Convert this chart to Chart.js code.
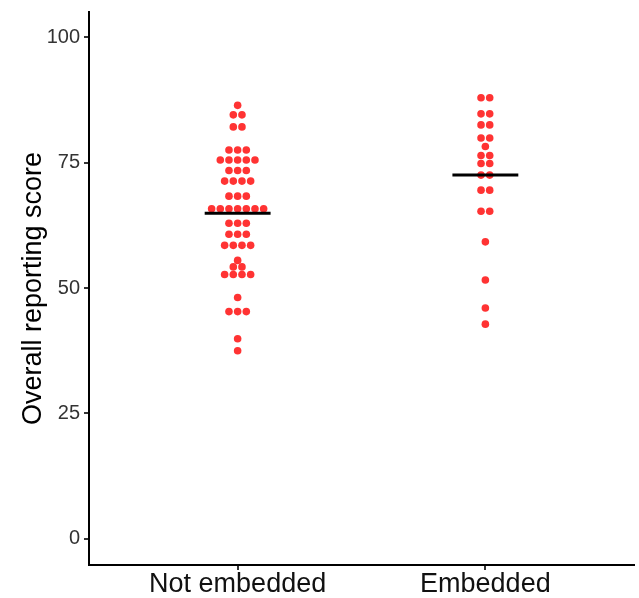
<!DOCTYPE html>
<html>
<head>
<meta charset="utf-8">
<script src="https://cdn.jsdelivr.net/npm/chart.js@4"></script>
<style>
    body { margin: 0; background: #ffffff; }
    canvas { display: block; }
</style>
</head>
<body>
<canvas id="chart" width="639" height="598"></canvas>
<script>
// values (one entry per dot)
const categories = ['Not embedded', 'Embedded'];

const notEmbedded = [
    86.4,
    84.5, 84.5,
    82.1, 82.1,
    77.5, 77.5, 77.5,
    75.5, 75.5, 75.5, 75.5, 75.5,
    73.4, 73.4, 73.4,
    71.3, 71.3, 71.3, 71.3,
    68.3, 68.3, 68.3,
    65.8, 65.8, 65.8, 65.8, 65.8, 65.8, 65.8,
    62.9, 62.9, 62.9,
    60.7, 60.7, 60.7,
    58.5, 58.5, 58.5, 58.5,
    55.5,
    54.2, 54.2,
    52.7, 52.7, 52.7, 52.7,
    48.1,
    45.3, 45.3, 45.3,
    39.9,
    37.5
];

const embedded = [
    87.9, 87.9,
    84.7, 84.7,
    82.5, 82.5,
    79.9, 79.9,
    78.2,
    76.4, 76.4,
    74.8, 74.8,
    72.5, 72.5,
    69.5, 69.5,
    65.3, 65.3,
    59.2,
    51.6,
    46.0,
    42.8
];

const groupMeans = [64.9, 72.5];
const yTicks = [0, 25, 50, 75, 100];

const DOT_STEP = 0.035;   // horizontal gap between dots in a row (x units)
const BAR_HALF = 0.133;   // half length of the mean bar

// lay out equal values side by side around the category centre
function swarm(values, center) {
    const counts = {};
    values.forEach(v => { counts[v] = (counts[v] || 0) + 1; });
    const seen = {};
    return values.map(v => {
        const k = seen[v] || 0;
        seen[v] = k + 1;
        return {x: center + (k - (counts[v] - 1) / 2) * DOT_STEP, y: v};
    });
}

const dots = [
    ...swarm(notEmbedded, 1),
    ...swarm(embedded, 2)
];

const meanBars = groupMeans.map((m, i) => ({
    type: 'line',
    data: [{x: i + 1 - BAR_HALF, y: m}, {x: i + 1 + BAR_HALF, y: m}],
    borderColor: '#000000',
    borderWidth: 3,
    pointRadius: 0,
    order: 0
}));

new Chart(document.getElementById('chart'), {
    type: 'scatter',
    data: {
        datasets: [
            ...meanBars,
            {
                data: dots,
                backgroundColor: '#ff3333',
                borderWidth: 0,
                pointRadius: 3.8,
                order: 1
            }
        ]
    },
    options: {
        responsive: false,
        animation: false,
        devicePixelRatio: 1,
        layout: {padding: {top: 12, right: 5, left: 0, bottom: 0}},
        plugins: {
            legend: {display: false},
            tooltip: {enabled: false}
        },
        scales: {
            x: {
                type: 'linear',
                min: 0.4,
                max: 2.6,
                afterBuildTicks: scale => {
                    scale.ticks = categories.map((c, i) => ({value: i + 1}));
                },
                afterFit: scale => {
                    scale.height = 33;
                    scale.paddingLeft = 0;
                    scale.paddingRight = 0;
                },
                ticks: {
                    autoSkip: false,
                    maxRotation: 0,
                    padding: 1,
                    color: '#111111',
                    font: {family: 'Liberation Sans', size: 27, lineHeight: 1},
                    callback: (value, index) => categories[index]
                },
                grid: {
                    display: true,
                    drawOnChartArea: false,
                    drawTicks: true,
                    tickLength: 5,
                    color: '#333333',
                    lineWidth: 2
                },
                border: {display: true, color: '#000000', width: 2}
            },
            y: {
                min: -5.2,
                max: 105,
                afterBuildTicks: scale => {
                    scale.ticks = yTicks.map(v => ({value: v}));
                },
                afterFit: scale => {
                    scale.width = 89;
                    scale.paddingTop = 0;
                    scale.paddingBottom = 0;
                },
                ticks: {
                    padding: 4,
                    color: '#333333',
                    font: {family: 'Liberation Sans', size: 20}
                },
                title: {
                    display: true,
                    text: 'Overall reporting score',
                    color: '#000000',
                    font: {family: 'Liberation Sans', size: 27, lineHeight: 1.2},
                    padding: {top: 17, bottom: 0}
                },
                grid: {
                    display: true,
                    drawOnChartArea: false,
                    drawTicks: true,
                    tickLength: 5,
                    color: '#333333',
                    lineWidth: 2
                },
                border: {display: true, color: '#000000', width: 2}
            }
        }
    }
});
</script>
</body>
</html>
